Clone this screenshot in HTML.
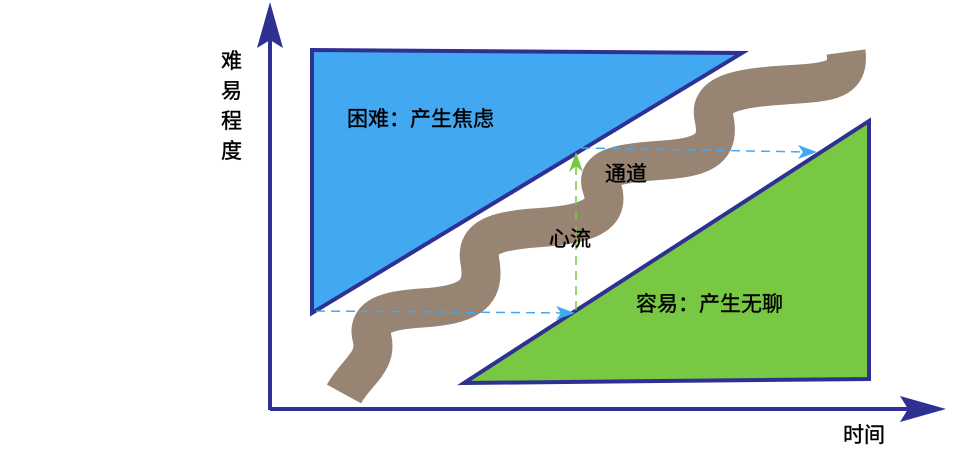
<!DOCTYPE html>
<html><head><meta charset="utf-8"><style>
body{margin:0;background:#fff;width:958px;height:455px;overflow:hidden}
svg text{font-family:"Liberation Sans","Noto Sans CJK SC",sans-serif;fill:#000;stroke:#000;stroke-width:0.4}
</style></head><body>
<svg width="958" height="455" viewBox="0 0 958 455" xmlns="http://www.w3.org/2000/svg">
<polygon points="312,50 742,53 312,313" fill="#42a8f2" stroke="#2e3192" stroke-width="4" stroke-linejoin="miter"/>
<polygon points="464,383 869,379 869,121" fill="#79c843" stroke="#2e3192" stroke-width="4"/>
<path d="M344,394 C356,372 378,362 372,338 C366,316 388,310 422,308 C466,305 486,296 480,262 C474,234 502,230 547,227 C594,223 610,212 602,188 C594,166 622,163 664,160 C708,157 720,146 714,118 C708,94 737,88 784,85 C828,82 850,82 846,52" fill="none" stroke="#978473" stroke-width="39" stroke-linecap="butt"/>
<g fill="none" stroke-width="1.5" stroke-dasharray="9,6">
<line x1="316" y1="311" x2="568" y2="313" stroke="#42a8f2"/>
<line x1="581" y1="148" x2="808" y2="152" stroke="#42a8f2"/>
<line x1="576" y1="310" x2="576" y2="162" stroke="#79c843"/>
</g>
<polygon points="575,313 556,306 561,313 556,320" fill="#42a8f2"/>
<polygon points="817,152 798,145 803,152 798,159" fill="#42a8f2"/>
<polygon points="576,152 569,172 576,166 583,172" fill="#79c843"/>
<line x1="270" y1="40" x2="270" y2="410" stroke="#2e3192" stroke-width="4"/>
<line x1="270" y1="409" x2="910" y2="409" stroke="#2e3192" stroke-width="4"/>
<polygon points="270,2 257,48 270,40 283,48" fill="#2e3192"/>
<polygon points="946,409 900,396 908,409 900,422" fill="#2e3192"/>
<g font-size="21">
<text x="221" y="68">难</text><text x="221" y="98">易</text><text x="221" y="128">程</text><text x="221" y="158">度</text>
<text x="843" y="442">时间</text>
<text x="347" y="126">困难：产生焦虑</text>
<text x="636" y="311">容易：产生无聊</text>
<text x="549" y="246">心流</text>
<text x="605" y="181">通道</text>
</g>
</svg>
</body></html>
